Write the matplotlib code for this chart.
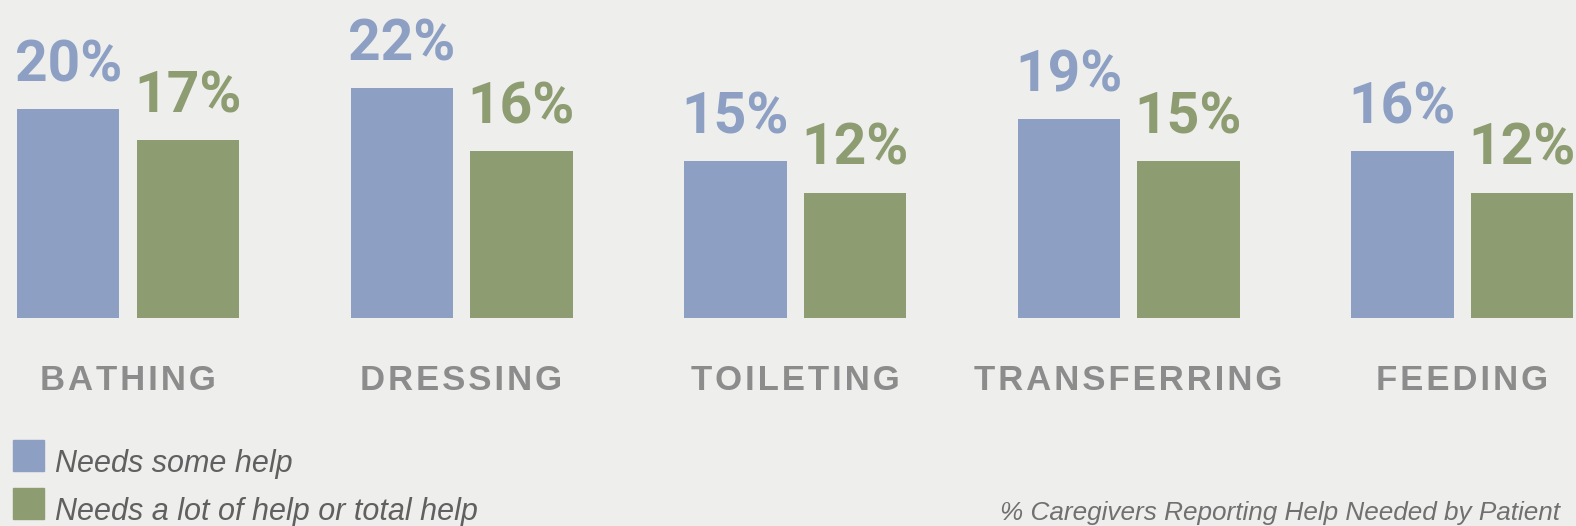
import numpy as np
import matplotlib.pyplot as plt
from matplotlib.patches import Rectangle

categories = ['BATHING', 'DRESSING', 'TOILETING', 'TRANSFERRING', 'FEEDING']
some_help = [20, 22, 15, 19, 16]
lot_of_help = [17, 16, 12, 15, 12]
series_labels = ['Needs some help', 'Needs a lot of help or total help']
footnote = '% Caregivers Reporting Help Needed by Patient'

BLUE = '#8da0c4'
GREEN = '#8d9c71'
BG = '#eeeeec'

W, H = 1576, 526
fig = plt.figure(figsize=(W / 100, H / 100), dpi=100, facecolor=BG)

# axes spans full width; baseline sits at y=318 px from top
base_px = 208
px_per_pct = 10.45
ax = fig.add_axes([0, base_px / H, 1, 25 * px_per_pct / H])
ax.set_facecolor(BG)
ax.set_ylim(0, 25)

group_px = 333.5
first_center = 128
ax.set_xlim(-first_center / group_px, (W - first_center) / group_px)
ax.axis('off')

x = np.arange(len(categories))
bw = 102.5 / group_px
off = 119.5 / 2 / group_px

b1 = ax.bar(x - off, some_help, bw, color=BLUE)
b2 = ax.bar(x + off, lot_of_help, bw, color=GREEN)

num_font = ['Roboto', 'DejaVu Sans']
for bars, vals, col in [(b1, some_help, BLUE), (b2, lot_of_help, GREEN)]:
    for rect, v in zip(bars, vals):
        ax.annotate(f'{v}%', (rect.get_x() + rect.get_width() / 2, v),
                    xytext=(0, 20), textcoords='offset points',
                    ha='center', va='baseline', fontsize=41,
                    fontweight='bold', color=col, family=num_font,
                    annotation_clip=False)

# category names, letter-spaced
for xi, name in zip(x, categories):
    ax.text(xi, -62 / px_per_pct, '\u200a'.join(name), ha='center', va='center',
            fontsize=25, fontweight='bold', color='#8c8c8c',
            family=['Liberation Sans', 'DejaVu Sans'])

# legend
for i, (lab, col) in enumerate(zip(series_labels, [BLUE, GREEN])):
    y_top = 440 + i * 48
    fig.patches.append(Rectangle((13 / W, 1 - (y_top + 31) / H), 31 / W, 31 / H,
                                 transform=fig.transFigure, color=col))
    fig.text(55 / W, 1 - (472 + i * 48) / H, lab, ha='left', va='baseline',
             fontsize=22, style='italic', color='#606060',
             family=['Liberation Sans', 'DejaVu Sans'])

fig.text(1000 / W, 1 - 520 / H, footnote, ha='left', va='baseline',
         fontsize=18.8, style='italic', color='#707070',
         family=['Liberation Sans', 'DejaVu Sans'])

fig.savefig('out.png', dpi=100, facecolor=BG)
